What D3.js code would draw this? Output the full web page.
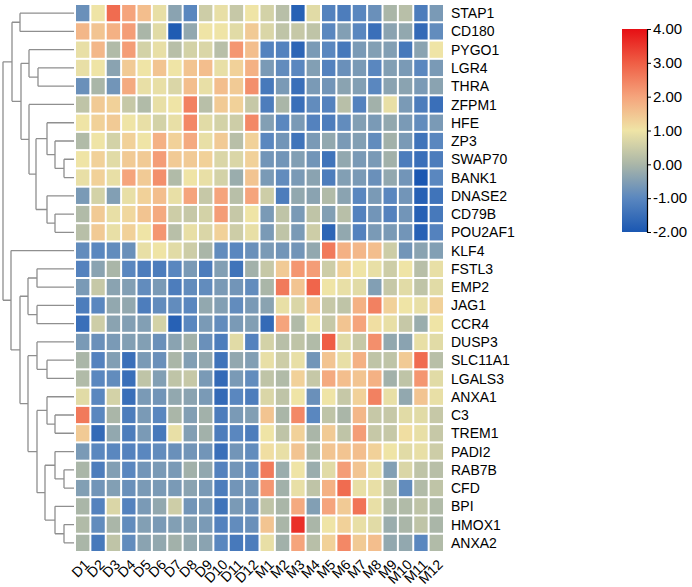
<!DOCTYPE html>
<html>
<head>
<meta charset="utf-8">
<script src="https://cdn.jsdelivr.net/npm/d3@7"></script>
<style>
  html, body { margin: 0; padding: 0; background: #fff; }
  svg { display: block; }
  text { font-family: Arial, "Liberation Sans", sans-serif; fill: #000; }
</style>
</head>
<body>
<svg id="chart" width="692" height="587"></svg>
<script>
// ---------------- DATA ----------------
const genes = ["STAP1","CD180","PYGO1","LGR4","THRA","ZFPM1","HFE","ZP3","SWAP70","BANK1",
  "DNASE2","CD79B","POU2AF1","KLF4","FSTL3","EMP2","JAG1","CCR4","DUSP3","SLC11A1",
  "LGALS3","ANXA1","C3","TREM1","PADI2","RAB7B","CFD","BPI","HMOX1","ANXA2"];
const samples = ["D1","D2","D3","D4","D5","D6","D7","D8","D9","D10","D11","D12",
  "M1","M2","M3","M4","M5","M6","M7","M8","M9","M10","M11","M12"];

// expression z-scores, one row per gene (same order as genes)
const values = [
  [-0.8, 1.0, 2.8, 2.0, 1.6, 0.9,-0.4,-1.0, 0.5, 0.9, 0.4, 1.0,  0.6, 0.2,-1.8, 0.8,-1.1,-1.2,-1.0,-0.8, 0.0, 0.2,-1.2,-0.6], // STAP1
  [ 1.7, 1.5, 1.8, 2.1, 0.0, 0.8,-1.9,-0.3, 1.0, 1.0, 0.8, 1.4,  0.7, 0.3, 0.4, 0.3,-1.0,-0.5,-1.0,-1.5,-0.4,-0.3,-1.6,-0.9], // CD180
  [ 0.9, 1.7, 0.1, 2.1, 0.6, 0.9, 0.2, 0.6, 0.7, 0.2, 2.2, 1.6, -1.1,-1.1,-1.7,-0.6,-1.0,-1.3,-0.6,-0.5,-0.5,-1.3,-0.4, 1.0], // PYGO1
  [ 0.9, 1.0,-0.4, 1.4, 1.0, 1.5, 1.0, 1.5, 1.6, 0.9, 1.3, 1.8, -0.6,-0.9,-1.0,-0.5,-1.1,-0.8,-0.6,-1.0,-0.5,-0.6,-1.0,-0.6], // LGR4
  [-0.8, 0.0,-0.7, 1.9, 0.9, 0.9, 0.7, 1.6, 0.9, 1.6, 1.4, 2.3, -1.3,-0.6,-1.5,-0.6,-0.7,-0.4,-0.5,-1.0,-0.4,-0.4,-0.6,-0.4], // THRA
  [ 0.3, 1.4, 1.3, 0.4, 0.1, 0.9, 1.0, 2.5, 0.2, 1.4, 1.3, 0.4, -1.2, 0.0,-1.5,-0.9,-1.1, 0.2,-1.1,-0.1, 0.9,-0.6,-1.2,-1.5], // ZFPM1
  [ 1.0, 1.3, 1.4, 1.0, 0.9, 0.6, 0.9, 2.4, 0.8, 0.6, 0.5, 2.4, -0.5,-1.0,-0.6,-1.1,-1.2,-0.9,-0.5,-0.6,-0.3,-0.6,-0.9,-0.6], // HFE
  [ 0.1, 1.0, 0.6, 1.3, 1.0, 1.8, 1.3, 1.9, 0.9, 1.4, 0.2, 1.3, -1.0,-0.7,-1.4,-0.6,-0.3,-0.6,-0.5,-0.9,-0.1,-0.6,-1.4,-1.0], // ZP3
  [ 1.0, 1.3, 0.8, 1.4, 1.4, 2.1, 1.4, 1.4, 1.3, 0.7, 0.7, 1.3, -0.7,-0.7,-0.5,-0.7,-1.4,-0.3,-0.6,-0.6,-0.1,-1.2,-1.5,-1.2], // SWAP70
  [ 0.9, 1.3, 0.9, 2.0, 1.4, 2.3, 0.1, 1.0, 0.9, 0.6,-0.2, 1.5, -0.6,-0.9,-0.6,-0.4,-1.2,-0.5,-0.6,-0.8,-0.3,-0.7,-2.0,-1.0], // BANK1
  [-0.6, 0.6,-0.5, 0.9, 1.3, 1.6, 0.9, 2.0, 0.4, 2.0, 0.2, 2.0,  0.5,-1.2,-0.3,-0.4, 0.1,-0.4,-1.0,-0.6,-1.0,-0.7,-1.8,-1.4], // DNASE2
  [ 0.1, 1.4, 0.9, 1.2, 1.5, 1.9, 0.5, 0.4, 0.6, 2.1, 0.4, 1.0, -0.6, 0.3,-0.6, 0.3,-0.5, 0.2,-1.1,-0.7,-1.1,-0.7,-1.8,-1.3], // CD79B
  [ 0.2, 1.4, 0.9, 1.3, 1.0, 2.2, 0.2, 0.9, 0.7, 1.3, 0.5, 0.9, -0.6, 0.3,-0.6, 0.5,-1.7,-0.3,-1.1,-0.6,-0.6,-0.7,-1.8,-1.1], // POU2AF1
  [-0.9,-1.0,-0.9,-0.8, 0.9, 1.0, 0.8, 0.5, 0.0,-0.9,-1.0,-0.8, -0.6,-0.7,-0.7,-0.3, 2.6, 1.8, 1.7, 1.6, 0.5,-0.7,-0.4,-0.5], // KLF4
  [-1.1,-0.4, 0.0,-1.0,-1.2,-1.2,-1.0,-0.6,-1.2,-0.5,-1.4,-0.1,  0.4, 1.4, 2.2, 2.1, 0.5, 1.3, 1.0, 0.9, 0.5, 1.0, 0.2, 0.9], // FSTL3
  [-0.6, 0.4,-0.4,-0.5,-0.9,-0.6,-1.2,-0.9,-0.9,-0.6,-0.7,-0.9,  0.0, 2.6, 1.5, 2.9, 1.0, 0.9, 0.8,-0.5, 0.4, 0.8, 0.3, 0.8], // EMP2
  [-1.2,-1.0,-0.3,-0.3,-1.2,-0.9,-0.9,-1.0,-0.3,-0.5,-0.9,-0.6, -0.4, 0.9, 0.7, 1.5, 0.4, 0.3, 1.8, 2.5, 1.3, 1.0, 0.9, 1.3], // JAG1
  [-1.5, 0.5,-0.4,-0.5,-0.5, 0.6,-1.8,-1.0,-0.6,-0.9,-0.6,-0.5, -1.6, 2.0, 0.1, 1.0, 0.4, 1.5, 2.0, 1.1, 0.9, 0.4,-0.2, 1.0], // CCR4
  [-0.6,-0.8,-0.6,-0.5,-0.5,-0.8,-0.4,-0.1,-0.8,-1.2, 0.8,-1.1,  0.6, 0.2, 0.3, 0.1, 3.0, 0.8, 0.4, 2.3,-0.3,-0.4, 0.9, 0.8], // DUSP3
  [ 0.0,-1.1,-0.5,-1.5,-0.6,-0.8, 0.0,-0.5,-0.3,-1.4,-0.3,-0.5,  0.9, 0.5, 0.9,-0.7, 1.5, 0.9, 1.8, 0.3, 0.3, 1.4, 2.8, 0.2], // SLC11A1
  [ 0.1,-1.0,-0.9,-1.5, 0.3,-0.5, 0.3, 0.4,-0.6,-1.6,-0.6,-0.9,  0.3, 0.1, 1.3, 0.4, 1.9, 1.6, 1.5, 1.8,-0.1, 0.3, 2.2, 0.8], // LGALS3
  [ 0.8,-1.0, 0.6,-1.5,-0.6,-0.7,-0.3,-0.4,-0.6,-1.6,-1.0,-1.2,  0.7, 0.3, 1.0,-0.8, 1.0, 0.4, 1.3, 2.5, 0.9,-0.3, 1.5, 0.9], // ANXA1
  [ 2.6,-1.0, 0.0,-1.2,-0.6,-1.0, 0.0,-0.5,-0.1,-1.2,-0.6,-0.5,  1.5, 0.0, 2.4,-1.0, 0.3, 0.0, 1.7, 0.4, 0.4, 0.8, 0.8, 0.4], // C3
  [ 1.4,-1.6,-0.3,-1.2,-0.6,-1.3, 0.9,-0.5,-0.1,-1.2,-1.0,-1.2,  1.0, 0.3, 1.3, 0.0, 1.4, 0.3, 2.1, 0.4, 0.4, 1.1, 0.9, 0.4], // TREM1
  [-0.6,-1.0,-1.0,-1.1,-1.0,-0.9,-0.8,-0.7,-0.7,-1.5,-0.7,-0.9,  1.1, 0.9, 1.5, 0.1, 1.5, 1.5, 1.6, 1.3, 1.0, 0.8, 0.9, 0.5], // PADI2
  [ 0.0,-1.2,-0.5,-1.0,-0.7,-0.6,-0.6,-0.1,-0.3,-1.1,-0.7,-0.9,  2.6,-0.2, 1.0,-0.2, 0.8, 2.1, 1.5, 0.9,-0.5, 0.7, 0.3, 0.2], // RAB7B
  [-0.5,-0.7,-0.5,-0.8,-0.6,-0.6,-0.6,-0.4,-0.6,-1.2,-0.7,-0.7,  2.2,-0.1, 0.9, 0.3, 1.8, 2.8, 0.9, 0.9, 0.2,-0.9, 0.1, 0.3], // CFD
  [ 0.0,-1.1, 0.7,-1.1,-0.6,-0.3, 0.5,-0.7,-0.6,-1.4,-0.6,-0.8,  0.3, 0.0, 1.9,-0.5, 2.0, 1.4, 2.7, 0.9, 0.1, 0.1, 0.3, 0.1], // BPI
  [ 0.1,-0.9, 0.0,-0.9,-0.5,-0.6,-0.5,-0.5,-0.6,-1.1,-0.9,-0.8,  1.5, 0.0, 3.6, 0.0, 1.0, 1.3, 0.9, 0.8,-0.2, 0.0, 0.3, 0.0], // HMOX1
  [ 0.0,-1.3, 0.3,-0.9,-0.4,-0.3,-0.1,-0.3,-0.4,-1.0,-1.3,-1.2,  0.9,-0.1, 2.0, 0.2, 1.3, 2.4, 1.4, 1.6,-0.3,-0.3,-1.0, 0.1]  // ANXA2
];

// row dendrogram: merge heights (h) and children
const rowTree = {h:71, c:[
  {h:62, c:[
    {h:54, c:["STAP1","CD180"]},
    {h:53, c:[
      {h:45, c:["PYGO1", {h:36, c:["LGR4","THRA"]}]},
      {h:45, c:["ZFPM1", {h:38, c:[
        {h:27, c:["HFE", {h:19, c:["ZP3", {h:10, c:["SWAP70","BANK1"]}]}]},
        {h:27, c:["DNASE2", {h:19, c:["CD79B","POU2AF1"]}]}
      ]}]}
    ]}
  ]},
  {h:63, c:["KLF4",
    {h:54, c:[
      {h:46, c:[{h:37, c:["FSTL3","EMP2"]}, {h:37, c:["JAG1","CCR4"]}]},
      {h:46, c:[
        {h:37, c:["DUSP3", {h:27, c:["SLC11A1","LGALS3"]}]},
        {h:37, c:[
          {h:27, c:["ANXA1", {h:19, c:["C3","TREM1"]}]},
          {h:29, c:[
            {h:19, c:["PADI2", {h:10, c:["RAB7B","CFD"]}]},
            {h:19, c:["BPI", {h:10, c:["HMOX1","ANXA2"]}]}
          ]}
        ]}
      ]}
    ]}
  ]}
]};

const colorStops = [-2, -1, 0, 1, 2, 3, 4];
const colorRange = ["#1a57b2", "#5a87bf", "#aab6a8", "#efe4a6", "#f5a47c", "#ef5e45", "#e60f14"];
const legendTicks = [-2, -1, 0, 1, 2, 3, 4];

// ---------------- DRAW ----------------
const svg = d3.select("#chart");
const hm = {left: 75, right: 444, top: 4, bottom: 552};

const x = d3.scaleBand().domain(samples).range([hm.left, hm.right]);
const y = d3.scaleBand().domain(genes).range([hm.top, hm.bottom]);
const color = d3.scaleLinear().domain(colorStops).range(colorRange).interpolate(d3.interpolateRgb).clamp(true);

const cells = [];
genes.forEach((g, i) => samples.forEach((s, j) => cells.push({g, s, v: values[i][j]})));

svg.append("g").selectAll("rect").data(cells).join("rect")
  .attr("x", d => x(d.s) + 1)
  .attr("y", d => y(d.g) + 1)
  .attr("width", x.bandwidth() - 2)
  .attr("height", y.bandwidth() - 2)
  .attr("fill", d => color(d.v));

// row labels
svg.append("g").selectAll("text").data(genes).join("text")
  .attr("x", hm.right + 7)
  .attr("y", d => y(d) + y.bandwidth() / 2)
  .attr("dy", "0.36em")
  .style("font-size", "14px")
  .text(d => d);

// column labels
svg.append("g").selectAll("text").data(samples).join("text")
  .attr("transform", d => `translate(${x(d) + x.bandwidth() / 2 + 4},${hm.bottom + 10}) rotate(-45)`)
  .attr("text-anchor", "end")
  .attr("dy", "0.35em")
  .style("font-size", "14px")
  .text(d => d);

// dendrogram
const hScale = d3.scaleLinear().domain([0, 71]).range([hm.left - 1, 3]);
const dendro = svg.append("g").attr("fill", "none").attr("stroke", "#8f8f8f").attr("stroke-width", 1.3);
function layout(node) {
  if (typeof node === "string") return {y: y(node) + y.bandwidth() / 2, x: hScale(0)};
  const kids = node.c.map(layout);
  const nx = hScale(node.h);
  const ys = kids.map(k => k.y);
  const path = d3.path();
  path.moveTo(nx, d3.min(ys)); path.lineTo(nx, d3.max(ys));
  kids.forEach(k => { path.moveTo(nx, k.y); path.lineTo(k.x, k.y); });
  dendro.append("path").attr("d", path.toString());
  return {y: (d3.min(ys) + d3.max(ys)) / 2, x: nx};
}
layout(rowTree);

// legend
const lg = {x: 622, w: 25, top: 29, bottom: 232};
const defs = svg.append("defs");
const grad = defs.append("linearGradient").attr("id", "lgGrad")
  .attr("x1", 0).attr("x2", 0).attr("y1", 1).attr("y2", 0);
colorStops.forEach((v, i) => grad.append("stop")
  .attr("offset", (v - colorStops[0]) / (colorStops[colorStops.length - 1] - colorStops[0]))
  .attr("stop-color", colorRange[i]));
svg.append("rect").attr("x", lg.x).attr("y", lg.top).attr("width", lg.w)
  .attr("height", lg.bottom - lg.top).attr("fill", "url(#lgGrad)");
const ls = d3.scaleLinear().domain([-2, 4]).range([lg.bottom, lg.top]);
const lAxis = svg.append("g").attr("transform", `translate(${lg.x + lg.w},0)`)
  .call(d3.axisRight(ls).tickValues(legendTicks).tickFormat(d => d.toFixed(2)).tickSize(4).tickSizeOuter(0));
lAxis.select(".domain").attr("stroke", "#000").attr("stroke-width", 1.2);
lAxis.selectAll(".tick line").attr("stroke", "#000");
lAxis.selectAll(".tick text").style("font-size", "15px").attr("x", 6)
  .style("font-family", "Arial, 'Liberation Sans', sans-serif").attr("fill", "#000");
</script>
</body>
</html>
